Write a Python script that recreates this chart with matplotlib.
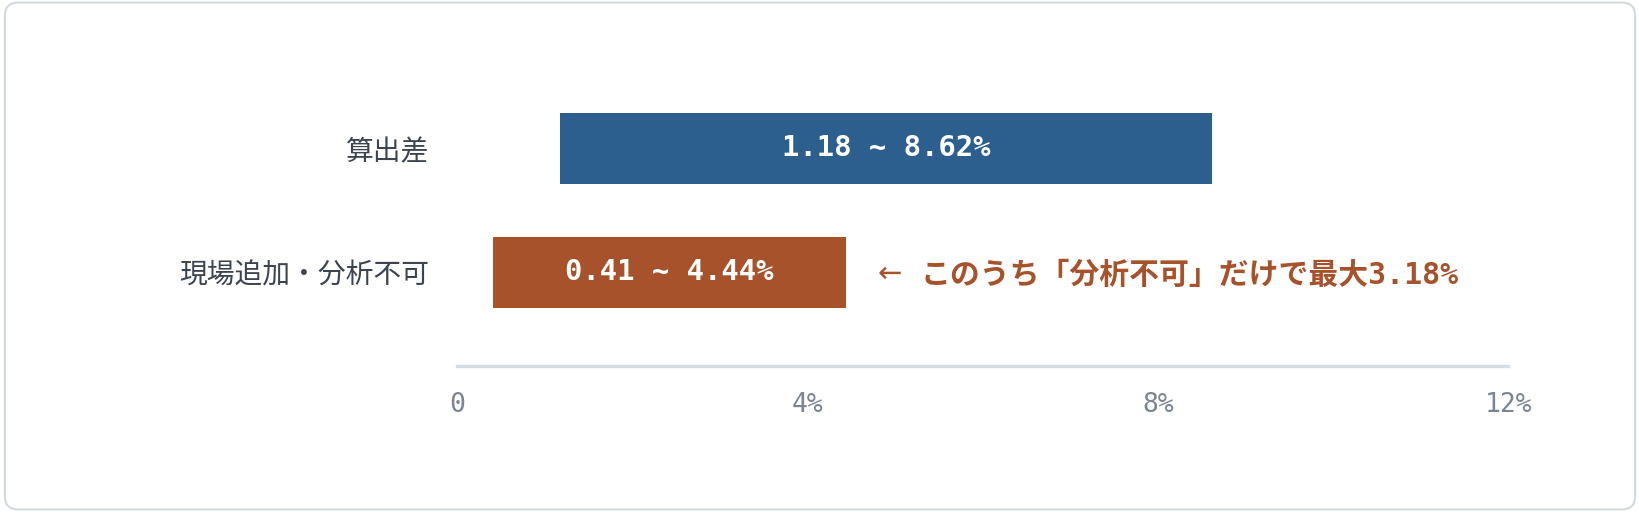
import matplotlib.pyplot as plt
from matplotlib.patches import FancyBboxPatch

# data
categories = ["算出差", "現場追加・分析不可"]
low_vals = [1.18, 0.41]
high_vals = [8.62, 4.44]
bar_colors = ["#2d5f8e", "#a8522b"]
tick_vals = [0, 4, 8, 12]
tick_labels = ["0", "4%", "8%", "12%"]
note_arrow = "←"
note_text = "このうち「分析不可」だけで最大3.18%"

plt.rcParams['font.family'] = ['Noto Sans CJK JP', 'DejaVu Sans']
mono = ['DejaVu Sans Mono', 'Noto Sans CJK JP']

fig = plt.figure(figsize=(16.4, 5.12), dpi=100)
fig.patch.set_facecolor("white")

# card border (drawn behind the axes)
card = FancyBboxPatch((0.003, 0.005), 0.994, 0.99,
                      boxstyle="round,pad=0,rounding_size=0.008",
                      transform=fig.transFigure, facecolor="none",
                      edgecolor="#d3d9e0", linewidth=1.5,
                      mutation_aspect=3.2, zorder=-10)
fig.patches.append(card)

ax = fig.add_axes([0.2787, 0.2852, 0.6409, 0.6367])
ax.set_facecolor("none")

ypos = [1, 0]
for y, lo, hi, col in zip(ypos, low_vals, high_vals, bar_colors):
    ax.barh(y, hi - lo, left=lo, height=0.57, color=col)
    ax.text((lo + hi) / 2, y, f"{lo:.2f} ~ {hi:.2f}%", ha="center", va="center",
            color="white", fontsize=20.8, fontweight="bold", family=mono)

# note next to the second bar
ax.annotate(note_arrow, xy=(high_vals[1], ypos[1]), xytext=(23, -1),
            textcoords="offset points", ha="left", va="center",
            color="#a8522b", fontsize=21, family=["DejaVu Sans"])
ax.annotate(note_text, xy=(high_vals[1], ypos[1]), xytext=(54, -2),
            textcoords="offset points", ha="left", va="center",
            color="#a8522b", fontsize=21.5, fontweight="bold", family=mono)

ax.set_xlim(0, 12)
ax.set_ylim(-0.754, 1.875)
ax.set_yticks(ypos)
ax.set_yticklabels(categories, fontsize=20, color="#3b4450")
ax.set_xticks(tick_vals)
ax.set_xticklabels(tick_labels, fontsize=19, color="#7b8593", family=mono)
ax.tick_params(axis="x", length=0, pad=19)
ax.tick_params(axis="y", length=0, pad=20)

for side in ["top", "right", "left"]:
    ax.spines[side].set_visible(False)
ax.spines["bottom"].set_color("#d5dbe3")
ax.spines["bottom"].set_linewidth(2.4)

fig.savefig("out.png", dpi=100, facecolor="white")
